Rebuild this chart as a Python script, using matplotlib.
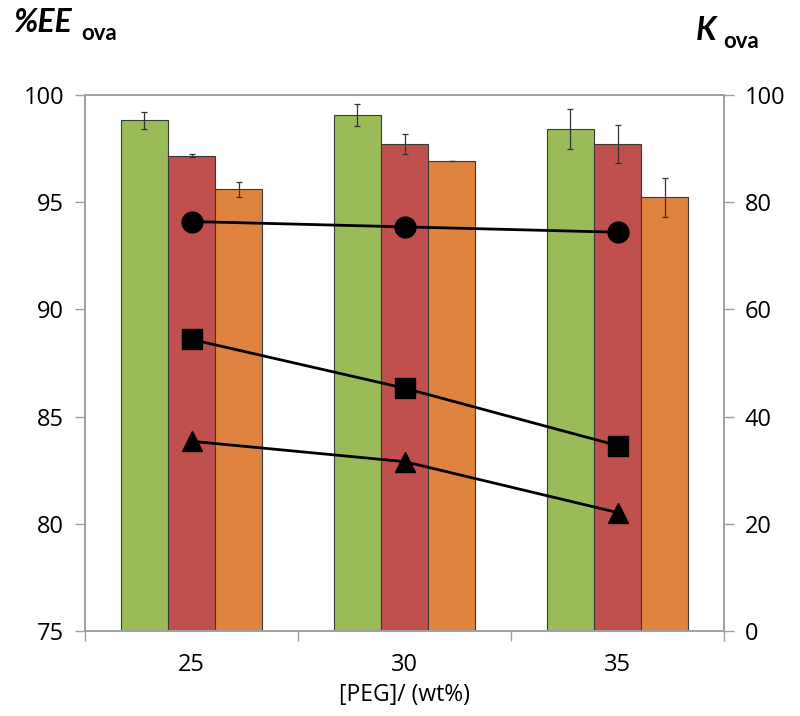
import numpy as np
from matplotlib import pyplot as plt

# data
peg = ['25', '30', '35']
ee_green = [98.82, 99.07, 98.41]
ee_green_err = [0.41, 0.51, 0.94]
ee_red = [97.17, 97.71, 97.73]
ee_red_err = [0.06, 0.48, 0.88]
ee_orange = [95.60, 96.91, 95.23]
ee_orange_err = [0.35, 0.0, 0.92]

k_circle = [76.4, 75.4, 74.4]
k_square = [54.4, 45.3, 34.6]
k_triangle = [35.4, 31.6, 22.1]

plt.rcParams['font.family'] = ['Open Sans', 'DejaVu Sans']

fig = plt.figure(figsize = (8, 7.16), dpi = 100)
ax = fig.add_axes([0.10625, 0.1187, 0.7988, 0.7486])
x = np.arange(len(peg))
w = 0.222
edge = '#3a3a3a'
ekw = dict(ecolor = '#333333', elinewidth = 0.9, capsize = 2.5, capthick = 0.9)

ax.bar(x - w, ee_green, w, color = '#9BBB59', edgecolor = edge, linewidth = 0.8,
       yerr = ee_green_err, error_kw = ekw)
ax.bar(x, ee_red, w, color = '#C0504D', edgecolor = edge, linewidth = 0.8,
       yerr = ee_red_err, error_kw = ekw)
ax.bar(x + w, ee_orange, w, color = '#DE843F', edgecolor = edge, linewidth = 0.8,
       yerr = ee_orange_err, error_kw = ekw)

ax.set_ylim(75, 100)
ax.set_xlim(-0.5, 2.5)
ax.set_yticks([75, 80, 85, 90, 95, 100])
ax.set_xticks([-0.5, 0.5, 1.5, 2.5])
ax.set_xticklabels([])
ax.set_xticks(x, minor = True)
ax.set_xticklabels(peg, minor = True)
ax.tick_params(axis = 'x', which = 'minor', length = 0, pad = 16, labelsize = 17)
ax.tick_params(axis = 'x', which = 'major', length = 7, width = 1, color = '#a0a0a0', direction = 'out')
ax.tick_params(axis = 'y', length = 7, width = 1, color = '#a0a0a0', labelsize = 17, pad = 8)
for s in ax.spines.values():
    s.set_color('#a0a0a0')
    s.set_linewidth(1.2)

ax2 = ax.twinx()
ax2.plot(x, k_circle, color = 'black', lw = 2, marker = 'o', markersize = 15)
ax2.plot(x, k_square, color = 'black', lw = 2, marker = 's', markersize = 14)
ax2.plot(x, k_triangle, color = 'black', lw = 2, marker = '^', markersize = 15)
ax2.set_ylim(0, 100)
ax2.set_yticks([0, 20, 40, 60, 80, 100])
ax2.tick_params(axis = 'y', length = 7, width = 1, color = '#a0a0a0', labelsize = 17, pad = 8)
for s in ax2.spines.values():
    s.set_color('#a0a0a0')
    s.set_linewidth(1.2)

ax.set_xlabel('[PEG]/ (wt%)', fontsize = 16.5, labelpad = 4)

tfont = ['Lato', 'DejaVu Sans']
fig.text(0.017, 0.955, '%EE', fontsize = 23, fontweight = 'bold', fontstyle = 'italic', family = tfont, va = 'baseline')
fig.text(0.102, 0.944, 'ova', fontsize = 16, fontweight = 'bold', family = tfont, va = 'baseline')
fig.text(0.870, 0.944, 'K', fontsize = 23, fontweight = 'bold', fontstyle = 'italic', family = tfont, va = 'baseline')
fig.text(0.904, 0.933, 'ova', fontsize = 16, fontweight = 'bold', family = tfont, va = 'baseline')

plt.savefig('out.png', dpi = 100)
